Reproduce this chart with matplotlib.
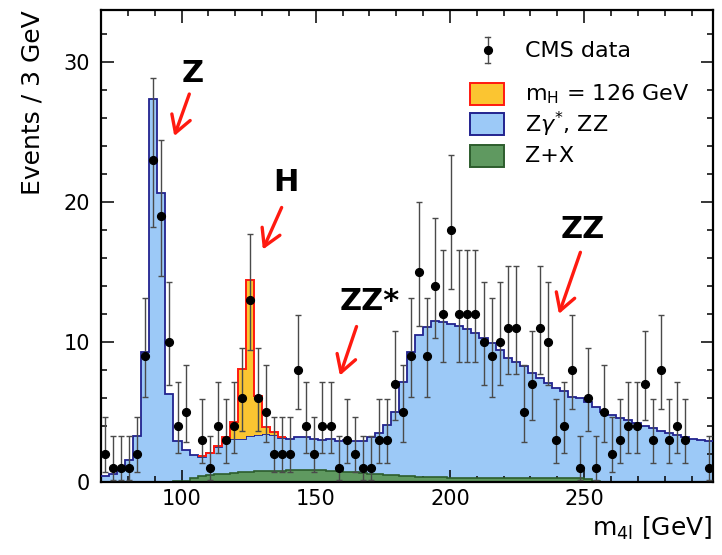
import math
import numpy as np
import matplotlib
matplotlib.use("Agg")
import matplotlib.pyplot as plt
from matplotlib.ticker import MultipleLocator
from matplotlib.patches import Rectangle
from matplotlib.lines import Line2D

plt.rcParams['font.family'] = ['DejaVu Sans']
plt.rcParams['mathtext.fontset'] = 'dejavusans'

# ---------------- data ----------------
bin_low = 70.0
bin_width = 3.0
n_bins = 76

data_counts = [2, 1, 1, 1, 2, 9, 23, 19, 10, 4,
               5, 0, 3, 1, 4, 3, 4, 6, 13, 6,
               5, 2, 2, 2, 8, 4, 2, 4, 4, 1,
               3, 2, 1, 1, 3, 3, 7, 5, 9, 15,
               9, 14, 12, 18, 12, 12, 12, 10, 9, 10,
               11, 11, 5, 7, 11, 10, 3, 4, 8, 1,
               6, 1, 5, 2, 3, 4, 4, 7, 3, 8,
               3, 4, 3, 0, 0, 1]

zx = [0, 0, 0, 0, 0, 0, 0, 0, 0, 0.05,
      0.1, 0.25, 0.4, 0.5, 0.56, 0.6, 0.64, 0.68, 0.72, 0.75,
      0.78, 0.8, 0.82, 0.84, 0.85, 0.86, 0.85, 0.83, 0.8, 0.76,
      0.72, 0.68, 0.64, 0.6, 0.56, 0.52, 0.49, 0.46, 0.42, 0.39,
      0.36, 0.34, 0.33, 0.32, 0.31, 0.3, 0.3, 0.29, 0.28, 0.28,
      0.27, 0.27, 0.27, 0.26, 0.26, 0.26, 0.26, 0.25, 0.25, 0.25,
      0.24, 0.1, 0.03, 0.03, 0.03, 0.03, 0.03, 0.03, 0.03, 0.03,
      0.03, 0.03, 0.03, 0.03, 0.03, 0.03]

zz = [0.45, 0.55, 0.85, 1.55, 3.25, 9.25, 27.35, 20.65, 6.3, 2.85,
      2.2, 1.7, 1.4, 1.55, 1.94, 2.3, 2.41, 2.42, 2.53, 2.6,
      2.62, 2.55, 2.33, 2.26, 2.35, 2.34, 2.2, 2.17, 2.25, 2.19,
      2.28, 2.27, 2.26, 2.6, 2.94, 3.53, 4.51, 6.69, 8.88, 10.11,
      10.74, 11.16, 11.12, 10.98, 10.84, 10.6, 10.35, 9.96, 9.62, 9.17,
      8.58, 8.28, 7.98, 7.54, 7.19, 6.79, 6.44, 6.25, 5.8, 5.75,
      5.46, 5.25, 4.97, 4.72, 4.57, 4.37, 4.17, 3.97, 3.82, 3.62,
      3.47, 3.32, 3.17, 3.07, 2.97, 2.87]

higgs = [0] * 12 + [0.03, 0.05, 0.1, 0.3, 1.2, 5.0, 11.2, 2.8, 0.55, 0.25, 0.08] + [0] * 53
higgs_first, higgs_last = 12, 22

legend_labels = ["CMS data", r"m$_{\rm H}$ = 126 GeV", r"Z$\gamma^{*}$, ZZ", "Z+X"]
x_ticks = [100, 150, 200, 250]
y_ticks = [0, 10, 20, 30]

annotations = [  # text, text position, arrow start, arrow end (data coords)
    ("Z",   (104.0, 29.2), (102.9, 27.7), (97.3, 24.7)),
    ("H",   (138.9, 21.4), (137.3, 19.6), (130.3, 16.6)),
    ("ZZ*", (170.1, 12.9), (165.2, 11.1), (159.0, 7.6)),
    ("ZZ",  (249.6, 18.0), (248.6, 16.4), (240.6, 12.0)),
]

# ---------------- helpers ----------------
def pois_cdf(k, mu):
    if k < 0:
        return 0.0
    term = math.exp(-mu)
    s = term
    for i in range(1, k + 1):
        term *= mu / i
        s += term
    return s

def solve(f, target, lo, hi, decreasing=True):
    for _ in range(80):
        mid = 0.5 * (lo + hi)
        v = f(mid)
        if (v > target) == decreasing:
            lo = mid
        else:
            hi = mid
    return 0.5 * (lo + hi)

def garwood(n):
    a = 0.158655
    up = solve(lambda m: pois_cdf(n, m), a, 0.0, n + 30.0)
    if n == 0:
        low = 0.0
    else:
        low = solve(lambda m: pois_cdf(n - 1, m), 1 - a, 0.0, n + 30.0)
    return n - low, up - n

# ---------------- figure ----------------
fig = plt.figure(figsize=(7.22, 5.55), dpi=100)
ax = fig.add_axes([101 / 722, 1 - 482 / 555, 612 / 722, 472 / 555])

edges = bin_low + bin_width * np.arange(n_bins + 1)
centers = 0.5 * (edges[:-1] + edges[1:])
zx_a = np.array(zx, float)
zz_a = np.array(zz, float)
h_a = np.array(higgs, float)
bkg = zx_a + zz_a
tot = bkg + h_a

blue_fill = '#9cc9f7'
blue_line = '#22238f'
green_fill = '#5f9960'
green_line = '#2d5d2d'
orange_fill = '#fbc531'
red_line = '#ff1a10'

ax.stairs(bkg, edges, baseline=0, fill=True, color=blue_fill, zorder=1)
ax.stairs(zx_a, edges, baseline=0, fill=True, color=green_fill, zorder=2)
ax.stairs(zx_a, edges, baseline=None, color=green_line, lw=1.2, zorder=2.5)
ax.stairs(bkg, edges, baseline=None, color=blue_line, lw=1.3, zorder=3)
s0, s1 = higgs_first, higgs_last + 1
ax.stairs(tot[s0:s1], edges[s0:s1 + 1], baseline=bkg[s0:s1], fill=True,
          color=orange_fill, zorder=3.5)
ax.stairs(tot[s0:s1], edges[s0:s1 + 1], baseline=None, color=red_line,
          lw=1.4, zorder=4)

d = np.array(data_counts)
mask = d > 0
errs = np.array([garwood(int(n)) for n in d[mask]]).T
ax.errorbar(centers[mask], d[mask], yerr=errs, fmt='o', color='black', ms=5.6,
            ecolor='#4a4a4a', elinewidth=1.0, capsize=2.0, capthick=1.0, zorder=6)

ax.set_xlim(edges[0], edges[-1])
ax.set_ylim(0, 33.7)
ax.set_xticks(x_ticks)
ax.set_yticks(y_ticks)
ax.xaxis.set_minor_locator(MultipleLocator(10))
ax.yaxis.set_minor_locator(MultipleLocator(2))
ax.tick_params(which='both', direction='in', top=True, right=True, width=1.1)
ax.tick_params(which='major', length=9, labelsize=15)
ax.tick_params(axis='x', which='major', pad=5)
ax.tick_params(axis='y', which='major', pad=8)
ax.tick_params(which='minor', length=4.3)
for sp in ax.spines.values():
    sp.set_linewidth(1.6)

fig.text(33 / 722, 1 - 10 / 555, "Events / 3 GeV", rotation=90, ha='center',
         va='top', fontsize=18)
fig.text(712 / 722, 1 - 528 / 555, r"m$_{\rm 4l}$ [GeV]", ha='right', va='center',
         fontsize=18)

# annotations
for txt, tpos, a0, a1 in annotations:
    ax.text(tpos[0], tpos[1], txt, ha='center', va='center', fontsize=22,
            fontweight='bold', zorder=7)
    ax.annotate('', xy=a1, xytext=a0,
                arrowprops=dict(arrowstyle='->,head_length=0.6,head_width=0.35',
                                lw=2.4, color=red_line, mutation_scale=20,
                                shrinkA=0, shrinkB=0), zorder=7)

# legend (manual)
T = ax.transAxes
ex, ey, eh = 0.632, 0.915, 0.028
ax.add_line(Line2D([ex, ex], [ey - eh, ey + eh], transform=T, color='#4a4a4a', lw=1.0))
ax.add_line(Line2D([ex - 0.004, ex + 0.004], [ey + eh, ey + eh], transform=T, color='#4a4a4a', lw=1.0))
ax.add_line(Line2D([ex - 0.004, ex + 0.004], [ey - eh, ey - eh], transform=T, color='#4a4a4a', lw=1.0))
ax.add_line(Line2D([ex], [ey], transform=T, marker='o', ms=5.6, color='black'))
ax.text(0.693, 0.913, legend_labels[0], transform=T, ha='left', va='center', fontsize=16)

boxes = [(0.799, orange_fill, red_line), (0.735, blue_fill, blue_line), (0.667, green_fill, green_line)]
text_y = [0.822, 0.758, 0.691]
for (yb, fc, ec), ty, lab in zip(boxes, text_y, legend_labels[1:]):
    ax.add_patch(Rectangle((0.603, yb), 0.055, 0.046, transform=T, facecolor=fc,
                           edgecolor=ec, lw=1.4, zorder=8))
    ax.text(0.693, ty, lab, transform=T, ha='left', va='center', fontsize=16)

fig.savefig("out.png", dpi=100)
